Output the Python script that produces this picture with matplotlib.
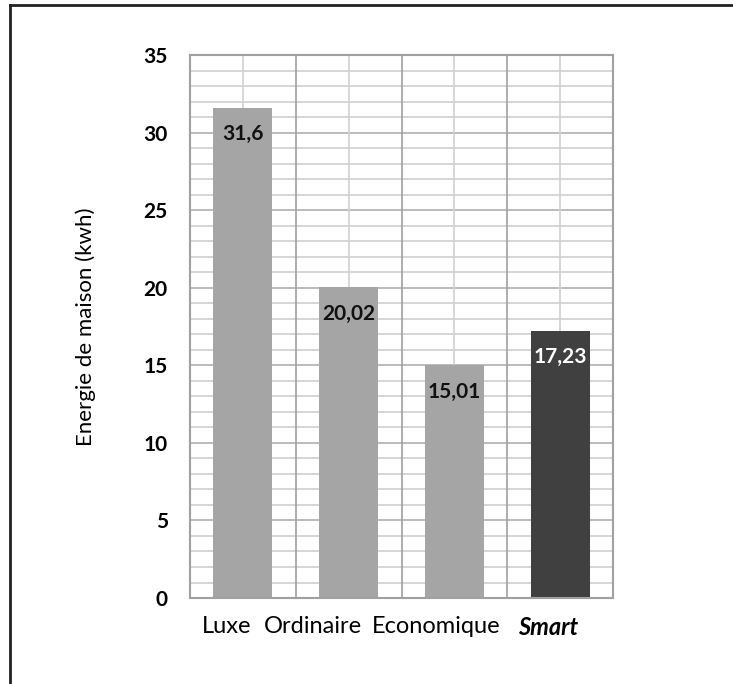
import matplotlib.pyplot as plt
import matplotlib.transforms as mtransforms
import numpy as np

categories = ["Luxe", "Ordinaire", "Economique", "Smart"]
values = [31.6, 20.02, 15.01, 17.23]
value_labels = ["31,6", "20,02", "15,01", "17,23"]
bar_colors = ["#A5A5A5", "#A5A5A5", "#A5A5A5", "#404040"]
label_colors = ["#111111", "#111111", "#111111", "#FFFFFF"]

plt.rcParams['font.family'] = ['Lato', 'DejaVu Sans']

fig = plt.figure(figsize=(7.33, 6.84), dpi=100)
ax = fig.add_axes([0.2592, 0.1257, 0.5771, 0.7939])

x = np.arange(len(categories))
ax.set_xlim(-0.5, len(categories) - 0.5)
ax.set_ylim(0, 35)

# grid: fine lines every 1 unit, category boundaries and halves
for yv in range(1, 35):
    c = "#B0B0B0" if yv % 5 == 0 else "#D0D0D0"
    ax.axhline(yv, color=c, lw=1.2, zorder=0)
for xv in x:
    ax.axvline(xv, color="#D0D0D0", lw=1.2, zorder=0)
for xv in x[1:] - 0.5:
    ax.axvline(xv, color="#A0A0A0", lw=1.2, zorder=0)

bars = ax.bar(x, values, width=0.56, color=bar_colors, zorder=2)

for b, lab, col in zip(bars, value_labels, label_colors):
    ax.annotate(lab, (b.get_x() + b.get_width() / 2, b.get_height()),
                xytext=(0, -19), textcoords="offset points",
                ha="center", va="center", fontsize=15, fontweight="bold",
                color=col, zorder=3)

for s in ax.spines.values():
    s.set_color("#A0A0A0")
    s.set_linewidth(1.5)

ax.set_yticks(range(0, 36, 5))
ax.tick_params(axis="y", length=0, pad=16, labelsize=15)
for t in ax.get_yticklabels():
    t.set_fontweight("bold")

ax.set_xticks(x)
ax.set_xticklabels(categories)
ax.tick_params(axis="x", length=0, pad=13, labelsize=17)
xt = ax.get_xticklabels()
xt[-1].set_fontweight("bold")
xt[-1].set_fontstyle("italic")
# labels sit a bit left of the category centres, as in the original
shifts = [-16, -36, -18, -12]
for t, dx in zip(xt, shifts):
    t.set_transform(t.get_transform() + mtransforms.ScaledTranslation(dx / 100, 0, fig.dpi_scale_trans))

ax.set_ylabel("Energie de maison (kwh)", fontsize=16, labelpad=34)

# outer frame lines (top and left only)
fig.add_artist(plt.Line2D([9.5 / 733, 9.5 / 733], [0, 1 - 5 / 684], color="#222222", lw=2,
                          transform=fig.transFigure))
fig.add_artist(plt.Line2D([9.5 / 733, 1], [1 - 5 / 684, 1 - 5 / 684], color="#222222", lw=2,
                          transform=fig.transFigure))

fig.savefig("out.png", dpi=100)
